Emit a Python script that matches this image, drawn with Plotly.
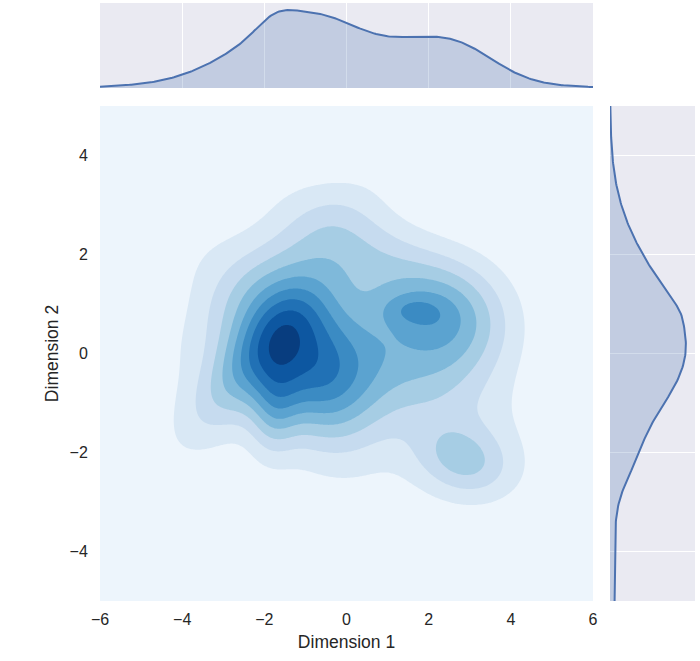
import numpy as np
import plotly.graph_objects as go

# ---- data: Gaussian components of the joint density ----
comp_cx = [-1.75, -2.14, 1.57, 2.49, 2.84, 0.62, 0.09, -0.82, -2.16, 0.41]
comp_cy = [-1.11, 1.46, 0.87, 0.69, -2.17, 1.87, 0.22, -0.51, 0.01, -4.24]
comp_sx = [0.42, 2.02, 0.52, 1.05, 0.83, 1.49, 2.26, 1.06, 1.17, 2.34]
comp_sy = [0.67, 1.49, 0.23, 0.84, 0.53, 0.98, 1.24, 0.95, 1.12, 2.69]
comp_amp = [0.261, 0.109, 0.133, 0.410, 0.303, 0.259, 0.338, 0.583, 0.443, 0.051]
comp_rho = [0.13, 0.90, -0.07, -0.04, -0.20, -0.59, -0.71, -0.28, 0.75, 0.00]

x_ticks = [-6, -4, -2, 0, 2, 4, 6]
y_ticks = [-4, -2, 0, 2, 4]
x_title = "Dimension 1"
y_title = "Dimension 2"

level_colors = ["#edf5fc", "#d9e8f5", "#c6dbef", "#a6cde4", "#7fb9da",
                "#5ba3d0", "#3b8bc3", "#2171b5", "#0d57a1", "#083d7f"]

# ---- density grid ----
gx = np.linspace(-6, 6, 301)
gy = np.linspace(-5, 5, 251)
XX, YY = np.meshgrid(gx, gy)
Z = np.zeros_like(XX)
for cx, cy, sx, sy, a, rho in zip(comp_cx, comp_cy, comp_sx, comp_sy, comp_amp, comp_rho):
    u = (XX - cx) / sx
    v = (YY - cy) / sy
    Z += a * np.exp(-0.5 * (u * u - 2 * rho * u * v + v * v) / (1 - rho ** 2))

zmax = Z.max()
step = zmax / 9.5
n_bands = len(level_colors)
cscale = []
for i, c in enumerate(level_colors):
    lo = 0 if i == 0 else (i - 0.5) / (n_bands - 1)
    hi = 1 if i == n_bands - 1 else (i + 0.5) / (n_bands - 1)
    cscale.append([lo, c])
    cscale.append([hi, c])

# marginal densities of the same field
mx = Z.sum(axis=0) * (gy[1] - gy[0])
my = Z.sum(axis=1) * (gx[1] - gx[0])

line_col = "#4c72b0"
fill_col = "rgba(76,114,176,0.25)"
font_fam = "Liberation Sans, Arial, sans-serif"
txt_col = "#262626"

fig = go.Figure()
fig.add_trace(go.Contour(
    x=gx, y=gy, z=Z, xaxis="x", yaxis="y",
    contours=dict(start=step, end=9 * step, size=step, coloring="fill", showlines=False),
    colorscale=cscale, showscale=False, line=dict(width=0), line_smoothing=0.8,
    hoverinfo="skip"))
fig.add_trace(go.Scatter(x=gx, y=mx, xaxis="x2", yaxis="y2", mode="lines",
                         line=dict(color=line_col, width=2), fill="tozeroy",
                         fillcolor=fill_col, hoverinfo="skip"))
fig.add_trace(go.Scatter(x=my, y=gy, xaxis="x3", yaxis="y3", mode="lines",
                         line=dict(color=line_col, width=2), fill="tozerox",
                         fillcolor=fill_col, hoverinfo="skip"))

W, H = 700, 661
xd_main = [100 / W, 593 / W]
yd_main = [1 - 601 / H, 1 - 106 / H]
yd_top = [1 - 88 / H, 1 - 3 / H]
xd_right = [610 / W, 695 / W]

tick_font = dict(family=font_fam, size=16, color=txt_col)
title_font = dict(family=font_fam, size=17.5, color=txt_col)

fig.update_layout(
    width=W, height=H, margin=dict(l=0, r=0, t=0, b=0),
    paper_bgcolor="white", plot_bgcolor="#eaeaf2", showlegend=False,
    xaxis=dict(domain=xd_main, anchor="y", range=[-6, 6], tickvals=x_ticks,
               showgrid=False, zeroline=False, showline=False, automargin=False,
               ticks="outside", ticklen=4, tickcolor="rgba(0,0,0,0)",
               tickfont=tick_font,
               title=dict(text=x_title, font=title_font, standoff=8)),
    yaxis=dict(domain=yd_main, anchor="x", range=[-5, 5], tickvals=y_ticks,
               showgrid=False, zeroline=False, showline=False, automargin=False,
               ticks="outside", ticklen=8, tickcolor="rgba(0,0,0,0)",
               tickfont=tick_font,
               title=dict(text=y_title, font=title_font, standoff=6)),
    xaxis2=dict(domain=xd_main, anchor="y2", range=[-6, 6], tickvals=x_ticks,
                showticklabels=False, showgrid=True, gridcolor="white", gridwidth=1.2,
                zeroline=False, showline=False, ticks="", automargin=False),
    yaxis2=dict(domain=yd_top, anchor="x2", range=[0, mx.max() * 1.09],
                showticklabels=False, showgrid=False, zeroline=False, showline=False,
                ticks="", automargin=False),
    xaxis3=dict(domain=xd_right, anchor="y3", range=[0, my.max() * 1.12],
                showticklabels=False, showgrid=False, zeroline=False, showline=False,
                ticks="", automargin=False),
    yaxis3=dict(domain=yd_main, anchor="x3", range=[-5, 5], tickvals=y_ticks,
                showticklabels=False, showgrid=True, gridcolor="white", gridwidth=1.2,
                zeroline=False, showline=False, ticks="", automargin=False),
)

fig.write_html("out.html", config={"displayModeBar": False},
               post_script="document.body.style.margin='0px';")
